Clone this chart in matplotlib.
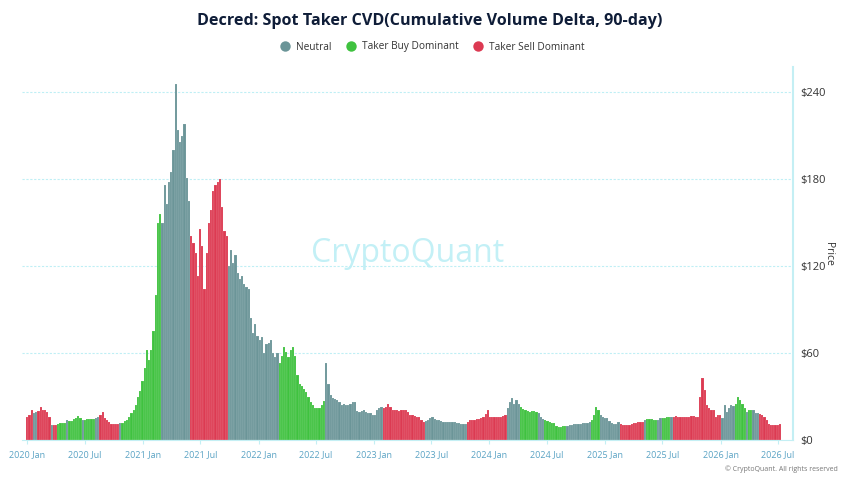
import matplotlib
matplotlib.use("Agg")
import matplotlib.pyplot as plt
from matplotlib.lines import Line2D
import numpy as np
import pandas as pd

# weekly bars starting 2020-01-01
start = "2020-01-01"
price = [
    16, 17, 21, 18.5, 19, 20, 23, 21, 20.5, 19.6,
    16, 10.4, 10.5, 10.4, 11, 11.5, 11.5, 12, 13.8, 13,
    13.4, 14.5, 15.5, 16.6, 15, 13.8, 14, 14.3, 14.5, 14.3,
    14.3, 15, 16, 17, 19, 15, 13.8, 12.5, 11, 11,
    11, 11, 11.5, 12, 13, 13.8, 16, 18.5, 21, 24,
    30, 34, 41, 50, 62, 55, 62, 75, 100, 150,
    156, 150, 176, 163, 178, 185, 200, 246, 214, 206,
    210, 218, 181, 165, 141, 136, 129, 113, 146, 134,
    104, 129, 150, 159, 172, 176, 178, 180, 161, 144,
    141, 120, 131, 122, 128, 115, 111, 113, 108, 106,
    104, 84, 74, 80, 72, 69, 71, 60, 66, 67,
    69, 60, 57, 60, 53, 58, 64, 61, 57, 62,
    64, 58, 45, 39, 37, 35, 33, 30, 26, 24,
    22, 22, 22, 24, 27, 53, 39, 31, 29, 28,
    27.7, 26, 24, 25, 24.5, 24, 25, 26, 26.5, 20,
    19.6, 19.8, 20.8, 19, 18.5, 18.5, 17.5, 17.3, 20.8, 22,
    23, 22, 23, 25, 23, 21, 20.7, 20.5, 20, 20.5,
    20.7, 20.7, 19, 17.5, 17, 16.5, 16, 15.6, 14, 12.6,
    13, 13.8, 15, 15.6, 14.5, 13.8, 13.5, 13, 12.5, 12.2,
    12.5, 12.4, 12.5, 12.4, 12, 11.5, 11.2, 10.8, 11, 12.5,
    13.8, 14, 14, 14.2, 14.5, 15, 16, 18, 20.7, 16,
    15.6, 16, 16, 15.6, 15.6, 16.5, 17, 22, 26, 28.7,
    25, 27.6, 25, 23, 21.5, 21, 20, 19.5, 20, 20,
    19, 18.4, 16, 14.3, 13.5, 12.8, 12.6, 12, 11.5, 10,
    8.7, 9, 9.7, 10, 10, 10.3, 10.5, 10.8, 11, 11,
    11.3, 11.5, 11.5, 12, 12.6, 14, 17, 23, 20.7, 17,
    15.6, 15.5, 15, 13, 11.5, 11, 11, 12.6, 11, 10.3,
    10.3, 10.3, 10.5, 11, 11.5, 12, 12.6, 12.6, 12.6, 14,
    14.3, 14.3, 14.3, 14, 13.8, 14, 15, 15, 15.5, 16,
    16, 15.6, 16, 16.5, 16, 15.6, 15.6, 15.6, 15.6, 16,
    16.5, 16.5, 16, 15.6, 30, 42.5, 34.5, 24, 21.8, 21,
    20.7, 15.6, 17, 17, 15, 24, 19.5, 22, 24, 23.3,
    25, 30, 27.6, 25, 22, 19.5, 21, 21, 20.7, 18.9,
    18.5, 18, 17, 16, 14, 11, 10.5, 10.3, 10.3, 10.5, 10.8,
]
# N = neutral, B = taker buy dominant, S = taker sell dominant
state = (
    "SSSNNSSSSS" "SNSSBBBBNB" "BBBBBNBBBB" "BNNSSSSSSS" "SSNBBBBBBB"
    "BBBBBBBBBB" "BNNNNNNNNN" "NNNNSSSSSS" "SSSSSSSSSS" "SNNNNNNNNN"
    "NNNNNNNNNN" "NNNNBBBBBB" "BBBBBBBBBB" "BBBBBNNNNN" "NNNNNNNNNN"
    "NNNNNNNNNN" "NSSSSSSSSS" "SSSSSSSSSS" "NNNNNNNNNN" "NNNNNNNNNS"
    "SSSSSSSSSS" "SSSSSSSNNN" "NNNBBBBBBB" "BNNNBBBBBB" "BBBBNNNNNN"
    "NNNNNBBBBN" "NNNNNNNNSS" "SSSSSSSSSN" "BBBBBNNBBB" "BNSSSSSSSS"
    "SSSSSSSSSS" "SSSSNNNNNN" "BBBBBNBBNN" "NSSSSSSSSSS"
)

state_colors = {"N": "#6b9598", "B": "#3fc23f", "S": "#dc3a52"}
legend_labels = ["Neutral", "Taker Buy Dominant", "Taker Sell Dominant"]

tick_dates = ["2020-01-01", "2020-07-01", "2021-01-01", "2021-07-01", "2022-01-01",
              "2022-07-01", "2023-01-01", "2023-07-01", "2024-01-01", "2024-07-01",
              "2025-01-01", "2025-07-01", "2026-01-01", "2026-07-01"]
tick_labels = ["2020 Jan", "2020 Jul", "2021 Jan", "2021 Jul", "2022 Jan", "2022 Jul",
               "2023 Jan", "2023 Jul", "2024 Jan", "2024 Jul", "2025 Jan", "2025 Jul",
               "2026 Jan", "2026 Jul"]
y_ticks = [0, 60, 120, 180, 240]

dates = pd.date_range(start, periods=len(price), freq="7D")
colors = [state_colors[s] for s in state]

plt.rcParams["font.family"] = ["Open Sans", "DejaVu Sans"]

fig = plt.figure(figsize=(8.6, 4.84), dpi=100)
ax = fig.add_axes([22 / 860, 1 - 440 / 484, (793 - 22) / 860, 373 / 484])

# full-width bars; a faint light edge gives the fine striping of the original
ax.bar(dates, price, width=7.0, color=colors, edgecolor=(1, 1, 1, 0.3),
       linewidth=0.3, zorder=2)

t0 = pd.Timestamp(start)
ax.set_xlim(t0 - pd.Timedelta(days=17), t0 + pd.Timedelta(days=2421))
ax.set_ylim(0, 257.6)

grid_c = "#bfeff5"
for v in y_ticks[1:]:
    ax.axhline(v, color=grid_c, lw=0.8, ls=(0, (2, 1.5)), zorder=1)

for s in ["top", "left"]:
    ax.spines[s].set_visible(False)
ax.spines["right"].set_color("#c4eff4")
ax.spines["right"].set_linewidth(1.5)
ax.spines["bottom"].set_color("#c4eff4")

ax.set_xticks(pd.to_datetime(tick_dates))
ax.set_xticklabels(tick_labels, fontsize=6.5, color="#5aa3c4")
ax.tick_params(axis="x", length=3, color="#c4eff4", pad=4)

ax.yaxis.tick_right()
ax.set_yticks(y_ticks)
ax.set_yticklabels(["$%d" % v for v in y_ticks], fontsize=8, color="#333333")
ax.tick_params(axis="y", length=0, pad=5)
ax.yaxis.set_label_position("right")
ax.set_ylabel("Price", rotation=270, fontsize=7.5, color="#333333", labelpad=6)

ax.text(0.5, 0.50, "CryptoQuant", transform=ax.transAxes, ha="center", va="center",
        fontsize=23, color="#c3f0f6", zorder=0)

fig.text(0.5, 1 - 21 / 484, "Decred: Spot Taker CVD(Cumulative Volume Delta, 90-day)",
         ha="center", va="center", fontsize=11.6, fontweight="bold", color="#0f1d38")

handles = [Line2D([], [], marker="o", ls="", markersize=7.5,
                  markerfacecolor=state_colors[k], markeredgewidth=0)
           for k in ["N", "B", "S"]]
fig.legend(handles, legend_labels, ncol=3, loc="center",
           bbox_to_anchor=(0.5, 1 - 47 / 484), frameon=False, fontsize=7.3,
           handletextpad=0.1, columnspacing=0.9, labelcolor="#333333")

fig.text(838 / 860, 1 - 469 / 484, "\u00a9 CryptoQuant. All rights reserved",
         ha="right", va="center", fontsize=5, color="#777777")

fig.savefig("out.png", dpi=100)
